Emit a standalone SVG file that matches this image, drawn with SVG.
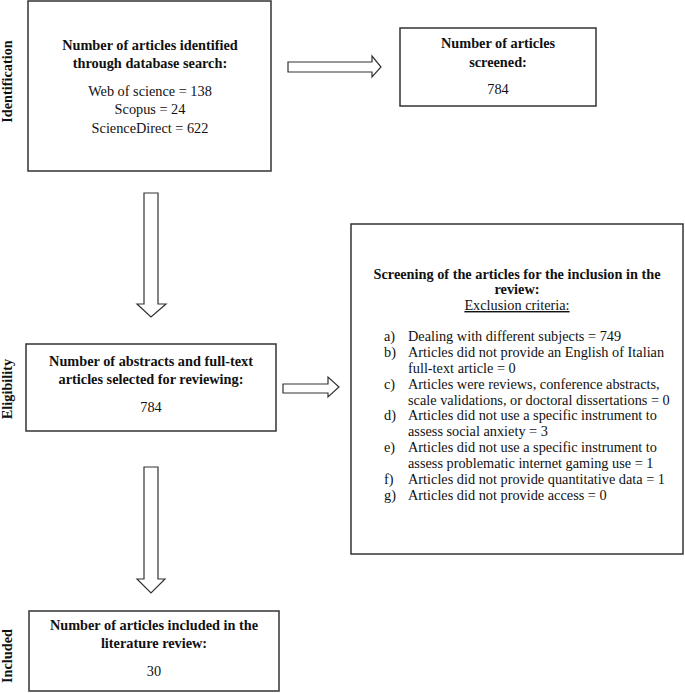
<svg xmlns="http://www.w3.org/2000/svg" width="685" height="693" viewBox="0 0 685 693">
<style>
text{font-family:"Liberation Serif","Times New Roman",serif;font-size:14.3px;fill:#111}
.b{font-weight:bold}
.c{text-anchor:middle}
.box{fill:#fff;stroke:#333;stroke-width:1.5}
.arr{fill:#fff;stroke:#333;stroke-width:1.2;stroke-linejoin:miter}
</style>
<rect width="685" height="693" fill="#fff"/>
<g id="stage-labels">
<text class="b c" transform="translate(12,81.5) rotate(-90)">Identification</text>
<text class="b c" transform="translate(12,389) rotate(-90)">Eligibility</text>
<text class="b c" transform="translate(12,656) rotate(-90)">Included</text>
</g>
<g id="connectors">
<path class="arr" d="M288,62 H372 V56 L381,67 L372,77 V72 H288 Z"/>
<path class="arr" d="M144,193 H158 V304 H166 L151,317 L137,304 H144 Z"/>
<path class="arr" d="M283,384 H328 V377 L339,387 L328,397 V393 H283 Z"/>
<path class="arr" d="M144,467 H158 V579 H165 L151,593 L137,579 H144 Z"/>
</g>
<g id="identified">
<rect class="box" x="28" y="1" width="243" height="170"/>
<text class="b c" x="150" y="50">Number of articles identified</text>
<text class="b c" x="150" y="68">through database search:</text>
<text class="c" x="150" y="96">Web of science = 138</text>
<text class="c" x="150" y="114">Scopus = 24</text>
<text class="c" x="150" y="133">ScienceDirect = 622</text>
</g>
<g id="screened">
<rect class="box" x="400" y="28" width="196" height="78"/>
<text class="b c" x="498" y="48">Number of articles</text>
<text class="b c" x="498" y="67">screened:</text>
<text class="c" x="498" y="94">784</text>
</g>
<g id="selected">
<rect class="box" x="26" y="344" width="250" height="87"/>
<text class="b c" x="151" y="366">Number of abstracts and full-text</text>
<text class="b c" x="151" y="384">articles selected for reviewing:</text>
<text class="c" x="151" y="412">784</text>
</g>
<g id="exclusion">
<rect class="box" x="351" y="224" width="332" height="330"/>
<text class="b c" x="517" y="279">Screening of the articles for the inclusion in the</text>
<text class="b c" x="517" y="294">review:</text>
<text class="c" x="517" y="310" text-decoration="underline">Exclusion criteria:</text>
<text x="384" y="341">a)</text><text x="408" y="341">Dealing with different subjects = 749</text>
<text x="384" y="357">b)</text><text x="408" y="357">Articles did not provide an English of Italian</text>
<text x="408" y="373">full-text article = 0</text>
<text x="384" y="389">c)</text><text x="408" y="389">Articles were reviews, conference abstracts,</text>
<text x="408" y="405">scale validations, or doctoral dissertations = 0</text>
<text x="384" y="420">d)</text><text x="408" y="420">Articles did not use a specific instrument to</text>
<text x="408" y="436">assess social anxiety = 3</text>
<text x="384" y="452">e)</text><text x="408" y="452">Articles did not use a specific instrument to</text>
<text x="408" y="468">assess problematic internet gaming use = 1</text>
<text x="384" y="484">f)</text><text x="408" y="484">Articles did not provide quantitative data = 1</text>
<text x="384" y="500">g)</text><text x="408" y="500">Articles did not provide access = 0</text>
</g>
<g id="included">
<rect class="box" x="29" y="611" width="250" height="80"/>
<text class="b c" x="154" y="630">Number of articles included in the</text>
<text class="b c" x="154" y="648">literature review:</text>
<text class="c" x="154" y="676">30</text>
</g>
</svg>
